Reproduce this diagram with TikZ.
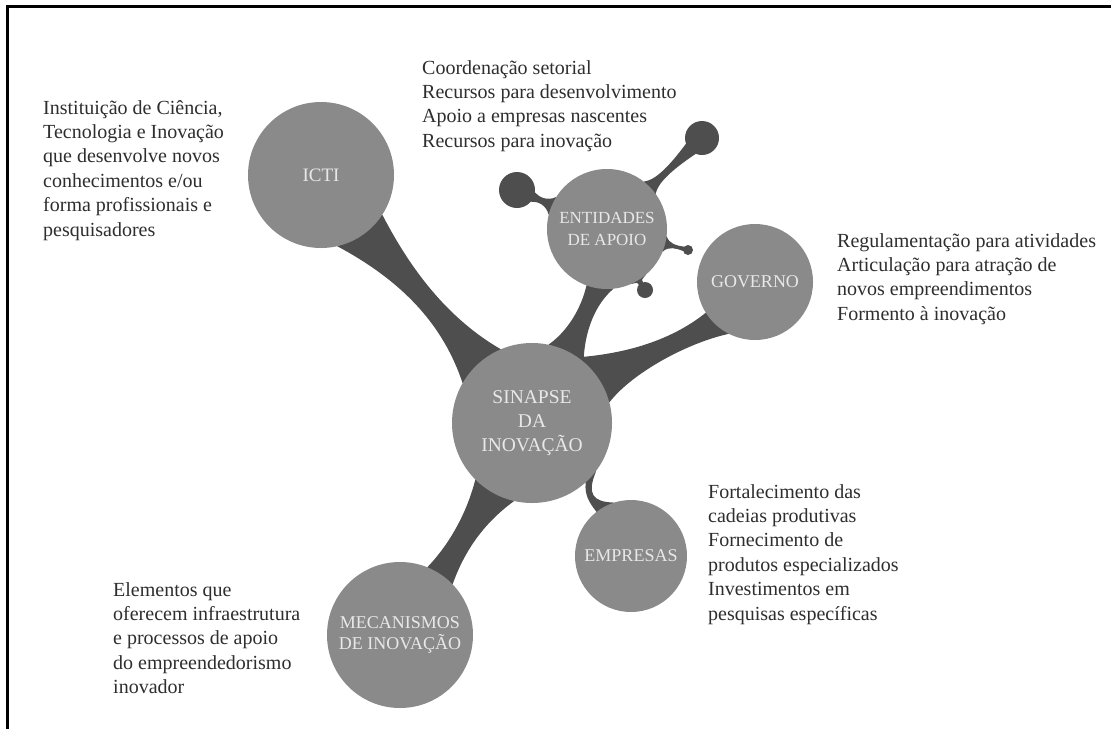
\documentclass[tikz,border=0pt]{standalone}
\usepackage{fontspec}
\setmainfont{Liberation Serif}
\usetikzlibrary{calc}
\pgfdeclarelayer{bottom}
\pgfdeclarelayer{background}
\pgfsetlayers{bottom,background,main}
\definecolor{ballc}{HTML}{8A8A8A}
\definecolor{trunkc}{HTML}{4E4E4E}
\definecolor{inkc}{HTML}{2E2E2E}
\definecolor{labelc}{HTML}{E8E8E8}
\begin{document}
\begin{tikzpicture}[x=1pt,y=-1pt,
  ball/.style={circle, fill=ballc, inner sep=0pt, text=labelc, align=center, font=\fontsize{18}{22}\selectfont},
  blob/.style={circle, fill=trunkc, inner sep=0pt},
  trunk/.style={fill=trunkc},
  desc/.style={anchor=north west, align=left, inner sep=0pt, text=inkc, font=\fontsize{20}{24.4}\selectfont}]
\useasboundingbox (0,0) rectangle (1111,729);
\begin{pgfonlayer}{bottom}
\fill[white] (0,0) rectangle (1111,729);
\end{pgfonlayer}
\draw[line width=3pt, black] (7,729) -- (7,6) -- (1111,6);

% main circles
\node[ball, minimum size=146pt, font=\fontsize{19}{22}\selectfont] (icti) at (321,175) {ICTI};
\node[ball, minimum size=120pt, font=\fontsize{17}{22}\selectfont] (ent) at (607,229) {ENTIDADES\\DE APOIO};
\node[ball, minimum size=116pt] (gov) at (755,282) {GOVERNO};
\node[ball, minimum size=160pt, font=\fontsize{19.5}{24}\selectfont] (sinapse) at (532,423) {SINAPSE\\DA\\INOVAÇÃO};
\node[ball, minimum size=112pt] (emp) at (631,556) {EMPRESAS};
\node[ball, minimum size=146pt, font=\fontsize{18}{21}\selectfont] (mec) at (400,635) {MECANISMOS\\DE INOVAÇÃO};

% small blobs
\node[blob, minimum size=36pt] (b1) at (517,190) {};
\node[blob, minimum size=34pt] (b2) at (702,138) {};
\node[blob, minimum size=10pt] (b3) at (688,250) {};
\node[blob, minimum size=16pt] (b4) at (645,290) {};

\begin{pgfonlayer}{background}
% ICTI - sinapse
\fill[trunk] (icti.-33) .. controls ($(icti)!0.42!(sinapse)!5.5pt!90:(sinapse)$) and ($(icti)!0.60!(sinapse)!5pt!90:(sinapse)$) .. (sinapse.113) -- (sinapse.center) -- (sinapse.150) .. controls ($(icti)!0.60!(sinapse)!5pt!-90:(sinapse)$) and ($(icti)!0.42!(sinapse)!5.5pt!-90:(sinapse)$) .. (icti.-77) -- (icti.center) -- cycle;
% entidades - sinapse
\fill[trunk] (ent.-84) .. controls ($(ent)!0.36!(sinapse)!16pt!90:(sinapse)$) and ($(ent)!0.50!(sinapse)!16pt!90:(sinapse)$) .. (sinapse.50) -- (sinapse.center) -- (sinapse.78) .. controls ($(ent)!0.50!(sinapse)!3.5pt!90:(sinapse)$) and ($(ent)!0.36!(sinapse)!3.5pt!90:(sinapse)$) .. (ent.-110) -- (ent.center) -- cycle;
% governo - sinapse
\fill[trunk] (gov.-117) .. controls (687,343) and (632,373) .. (sinapse.15) -- (sinapse.center) -- (sinapse.55) .. controls (620,354) and (668,343) .. (gov.-148) -- (gov.center) -- cycle;
% sinapse - mecanismos
\fill[trunk] (sinapse.-135) .. controls (465,520) and (444,550) .. (mec.68) -- (mec.center) -- (mec.44) .. controls (463,555) and (481,525) .. (sinapse.-103) -- (sinapse.center) -- cycle;
% sinapse - empresas
\fill[trunk] (sinapse.-37) .. controls ($(sinapse)!0.54!(emp)!1.5pt!90:(emp)$) and ($(sinapse)!0.60!(emp)!1.5pt!90:(emp)$) .. (emp.108) -- (emp.center) -- (emp.128) .. controls ($(sinapse)!0.60!(emp)!1.5pt!-90:(emp)$) and ($(sinapse)!0.54!(emp)!1.5pt!-90:(emp)$) .. (sinapse.-48) -- (sinapse.center) -- cycle;
% blobs on entidades
\fill[trunk] (ent.166) .. controls ($(ent)!0.67!(b1)!2pt!90:(b1)$) and ($(ent)!0.76!(b1)!2pt!90:(b1)$) .. (b1.-40) -- (b1.center) -- (b1.-8) .. controls ($(ent)!0.76!(b1)!2pt!-90:(b1)$) and ($(ent)!0.67!(b1)!2pt!-90:(b1)$) .. (ent.148) -- (ent.center) -- cycle;
\fill[trunk] (ent.52) .. controls ($(ent)!0.52!(b2)!2pt!90:(b2)$) and ($(ent)!0.66!(b2)!2pt!90:(b2)$) .. (b2.200) -- (b2.center) -- (b2.248) .. controls ($(ent)!0.66!(b2)!2pt!-90:(b2)$) and ($(ent)!0.52!(b2)!2pt!-90:(b2)$) .. (ent.36) -- (ent.center) -- cycle;
\fill[trunk] (ent.-7) .. controls ($(ent)!0.76!(b3)!1.2pt!90:(b3)$) and ($(ent)!0.86!(b3)!1.2pt!90:(b3)$) .. (b3.140) -- (b3.center) -- (b3.190) .. controls ($(ent)!0.86!(b3)!1.2pt!-90:(b3)$) and ($(ent)!0.76!(b3)!1.2pt!-90:(b3)$) .. (ent.-22) -- (ent.center) -- cycle;
\fill[trunk] (ent.-50) .. controls ($(ent)!0.85!(b4)!2pt!90:(b4)$) and ($(ent)!0.87!(b4)!2pt!90:(b4)$) .. (b4.105) -- (b4.center) -- (b4.140) .. controls ($(ent)!0.87!(b4)!2pt!-90:(b4)$) and ($(ent)!0.85!(b4)!2pt!-90:(b4)$) .. (ent.-66) -- (ent.center) -- cycle;
\end{pgfonlayer}

% descriptions
\node[desc] (ticti) at (43,100) {Instituição de Ciência,\\Tecnologia e Inovação\\que desenvolve novos\\conhecimentos e/ou\\forma profissionais e\\pesquisadores};
\node[desc] (tent) at (422,60) {Coordenação setorial\\Recursos para desenvolvimento\\Apoio a empresas nascentes\\Recursos para inovação};
\node[desc] (tgov) at (837,233) {Regulamentação para atividades\\Articulação para atração de\\novos empreendimentos\\Formento à inovação};
\node[desc] (temp) at (708,484) {Fortalecimento das\\cadeias produtivas\\Fornecimento de\\produtos especializados\\Investimentos em\\pesquisas específicas};
\node[desc] (tmec) at (113,582) {Elementos que\\oferecem infraestrutura\\e processos de apoio\\do empreendedorismo\\inovador};
\end{tikzpicture}
\end{document}
